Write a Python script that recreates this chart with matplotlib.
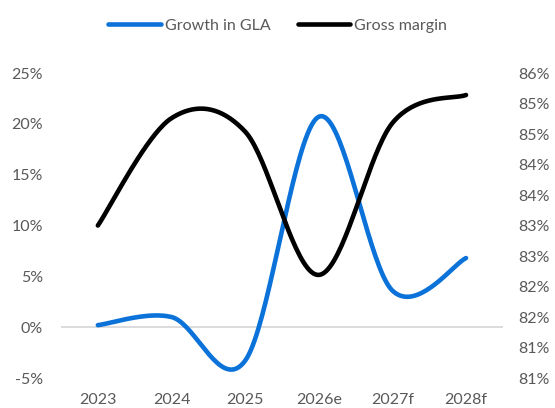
import numpy as np
import matplotlib
matplotlib.use('Agg')
import matplotlib.pyplot as plt
from matplotlib.ticker import FuncFormatter, FixedLocator

# data
years = ['2023', '2024', '2025', '2026e', '2027f', '2028f']
gla_growth = [0.2, 1.0, -3.3, 20.7, 3.6, 6.8]          # %, left axis
gross_margin = [83.0, 84.76, 84.54, 82.19, 84.68, 85.14]  # %, right axis

BLUE = '#0a72d8'
GREY_TXT = '#595959'

plt.rcParams['font.family'] = ['Lato', 'DejaVu Sans']
plt.rcParams['font.size'] = 11.5


def smooth(vals, n=40):
    # Bezier segments with control points at 1/6 of the neighbour difference
    p = np.asarray(vals, dtype=float)
    x = np.arange(len(p), dtype=float)
    pts = np.column_stack([x, p])
    ext = np.vstack([pts[0], pts, pts[-1]])
    out = []
    for i in range(len(pts) - 1):
        p0, p1, p2, p3 = ext[i], ext[i + 1], ext[i + 2], ext[i + 3]
        c1 = p1 + (p2 - p0) / 6.0
        c2 = p2 - (p3 - p1) / 6.0
        t = np.linspace(0, 1, n)[:, None]
        seg = ((1 - t) ** 3) * p1 + 3 * ((1 - t) ** 2) * t * c1 \
            + 3 * (1 - t) * t ** 2 * c2 + t ** 3 * p2
        out.append(seg if i == 0 else seg[1:])
    out = np.vstack(out)
    return out[:, 0], out[:, 1]


fig = plt.figure(figsize=(5.55, 4.08), dpi=100)
ax = fig.add_axes([0.110, 0.0735, 0.796, 0.7475])
ax2 = ax.twinx()

gx, gy = smooth(gla_growth)
mx, my = smooth(gross_margin)

ax.axhline(0, color='#d9d9d9', lw=1.3, zorder=1)
l1, = ax.plot(gx, gy, color=BLUE, lw=3.3, solid_capstyle='round', zorder=3,
              label='Growth in GLA')
l2, = ax2.plot(mx, my, color='black', lw=3.3, solid_capstyle='round', zorder=3,
               label='Gross margin')

ax.set_xlim(-0.5, len(years) - 0.5)
ax.set_ylim(-5, 25)
ax2.set_ylim(80.5, 85.5)

ax.xaxis.set_major_locator(FixedLocator(range(len(years))))
ax.set_xticklabels(years)
ax.yaxis.set_major_locator(FixedLocator(np.arange(-5, 26, 5)))
ax.yaxis.set_major_formatter(FuncFormatter(lambda v, _: f'{v:.0f}%'))
ax2.yaxis.set_major_locator(FixedLocator(np.arange(80.5, 85.51, 0.5)))
ax2.yaxis.set_major_formatter(
    FuncFormatter(lambda v, _: f'{int(np.floor(v + 0.5 + 1e-9))}%'))

for a in (ax, ax2):
    for s in a.spines.values():
        s.set_visible(False)
    a.tick_params(length=0, colors=GREY_TXT, labelsize=11.5)
ax.tick_params(axis='y', pad=13)
ax.tick_params(axis='x', pad=11)
ax2.tick_params(axis='y', pad=11)

fig.legend(handles=[l1, l2], loc='upper center', bbox_to_anchor=(0.5, 0.99),
           ncol=2, frameon=False, handlelength=3.3, handletextpad=0.25,
           columnspacing=1.7, labelcolor=GREY_TXT, fontsize=11.5)

plt.savefig('out.png', dpi=100)
